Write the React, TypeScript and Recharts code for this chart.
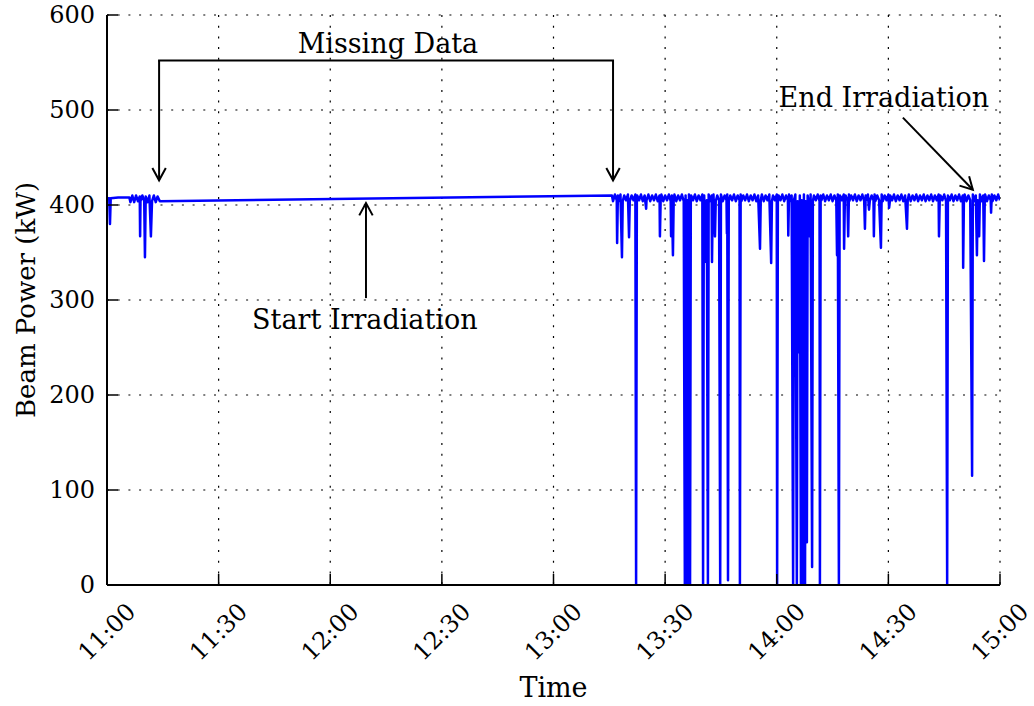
import React from 'react';
import {
  LineChart,
  Line,
  XAxis,
  YAxis,
  CartesianGrid,
  ReferenceLine,
  ReferenceDot,
  Label,
} from 'recharts';

const FONT = '"DejaVu Serif", serif';

// x axis: minutes after 11:00
const xTickMinutes = [0, 30, 60, 90, 120, 150, 180, 210, 240];
const xTickLabels = ['11:00', '11:30', '12:00', '12:30', '13:00', '13:30', '14:00', '14:30', '15:00'];
const yTicks = [0, 100, 200, 300, 400, 500, 600];

// [minutes after 11:00, beam power kW]
const runBeforeGap: [number, number][] = [
  [0, 407], [0.6, 407], [0.8, 380], [1.0, 407], [3, 408], [6, 408],
  [6.3, 403], [6.8, 410], [7.3, 403], [7.8, 410], [8.3, 404], [8.8, 409],
  [8.9, 367], [9.0, 404], [9.5, 410], [10.0, 404], [10.2, 345], [10.4, 409],
  [10.9, 403], [11.4, 410], [11.8, 367], [12.1, 404], [12.6, 410], [13.1, 403],
  [13.6, 409], [14.2, 404],
];

const runAfterGapA: [number, number][] = [
  [135.7, 410], [136, 404], [136.5, 411], [137, 405], [137.1, 360], [137.3, 410], [137.5, 404],
  [138, 411], [138.4, 345], [138.6, 404], [139, 410], [139.5, 405], [140, 411], [140.3, 366],
  [140.5, 404], [141, 410], [141.5, 405], [142, 411], [142.2, 0], [142.4, 404], [142.5, 410],
  [143, 405], [143.5, 411], [144, 404], [144.5, 410], [144.9, 396], [145, 405], [145.5, 411],
  [146, 404], [146.5, 410], [147, 405], [147.5, 411], [148, 404], [148.5, 410], [148.6, 367],
  [148.8, 405], [149, 411], [149.5, 404], [150, 410], [150.5, 405], [151, 411], [151.5, 404],
  [151.6, 367], [151.8, 410], [152.1, 347], [152.3, 405], [152.5, 411], [153, 404], [153.5, 410],
  [154, 405], [154.5, 411], [155, 404], [155.3, 0], [155.5, 410], [155.8, 0], [156.0, 405],
  [156.2, 0], [156.4, 411], [156.7, 0], [156.9, 404], [157, 410], [157.5, 405], [158, 411],
  [158.5, 404], [159, 410], [159.5, 405], [160, 411], [160.2, 0], [160.4, 404], [160.5, 410],
  [161.0, 340], [161.2, 405], [161.5, 0], [161.7, 411], [162, 404], [162.5, 410], [162.6, 340],
  [162.8, 405], [163, 411], [163.4, 367], [163.6, 404], [164, 410], [164.5, 405], [164.8, 0],
  [165.0, 411], [165.5, 404], [166, 410], [166.5, 405], [166.6, 370], [166.7, 411], [166.9, 5],
  [167.1, 404], [167.5, 410], [168, 405], [168.5, 411], [169, 404], [169.5, 410],
];

const runAfterGapB: [number, number][] = [
  [170, 405], [170.1, 0], [170.3, 411], [170.5, 404], [171, 410], [171.5, 405], [172, 411],
  [172.5, 404], [173, 410], [173.5, 405], [174, 411], [174.5, 404], [175, 410], [175.5, 354],
  [175.7, 405], [176, 411], [176.5, 404], [177, 410], [177.5, 405], [178, 411], [178.5, 339],
  [178.7, 404], [179, 410], [179.5, 405], [180, 411], [180.1, 0], [180.3, 404], [180.5, 410],
  [181, 405], [181.5, 411], [182, 404], [182.5, 410], [183, 405], [183.1, 368], [183.3, 411],
  [183.5, 404], [184, 410], [184.4, 0], [184.6, 405], [185, 411], [185.4, 0], [185.6, 404],
  [186.0, 245], [186.2, 410], [186.5, 0], [186.7, 405], [187.1, 0], [187.3, 411], [187.6, 0],
  [187.8, 404], [188.1, 45], [188.3, 410], [188.5, 405], [188.9, 367], [189.1, 411], [189.5, 19],
  [189.7, 404], [190, 410], [190.5, 405], [191, 411], [191.5, 404], [191.6, 0], [191.8, 410],
  [192, 405], [192.5, 411], [193, 404], [193.5, 410], [194, 405], [194.5, 411], [195, 404],
  [195.5, 410], [196, 405], [196.2, 347], [196.4, 411], [196.7, 0], [196.9, 404], [197, 410],
  [197.5, 405], [198, 411], [198.1, 354], [198.3, 404], [198.5, 410], [199, 405], [199.2, 367],
  [199.4, 411], [199.5, 404], [200, 410], [200.5, 405], [201, 411], [201.5, 404], [202, 410],
  [202.5, 405], [203, 411], [203.5, 404], [203.7, 375], [203.9, 410], [204, 405], [204.5, 411],
  [204.8, 395],
];

const runAfterGapC: [number, number][] = [
  [205, 404], [205.5, 410], [206, 405], [206.1, 367], [206.3, 411], [206.5, 404], [207, 410],
  [207.5, 405], [208, 355], [208.2, 411], [208.5, 404], [209, 410], [209.5, 405], [210, 411],
  [210.2, 397], [210.4, 404], [210.5, 410], [211, 405], [211.5, 411], [212, 404], [212.5, 410],
  [213, 405], [213.5, 411], [214, 404], [214.5, 410], [215, 375], [215.2, 405], [215.5, 411],
  [216, 404], [216.5, 410], [217, 405], [217.5, 411], [218, 404], [218.5, 410], [219, 405],
  [219.5, 411], [220, 404], [220.5, 410], [221, 405], [221.5, 411], [222, 404], [222.5, 410],
  [223, 405], [223.5, 411], [223.6, 367], [223.8, 404], [224, 410], [224.5, 405], [225, 411],
  [225.5, 404], [225.8, 0], [226.0, 410], [226.5, 405], [227, 411], [227.5, 404], [228, 410],
  [228.5, 405], [229, 411], [229.5, 404], [230, 410], [230.1, 334], [230.3, 405], [230.5, 411],
  [231, 404], [231.5, 410], [232, 405], [232.5, 115], [232.7, 411], [233, 404], [233.5, 410],
  [233.8, 347], [234.0, 405], [234.4, 367], [234.6, 411], [235, 404], [235.5, 410], [235.7, 341],
  [235.9, 405], [236, 411], [236.5, 404], [237, 410], [237.5, 405], [237.6, 392], [237.8, 411],
  [238, 404], [238.5, 410], [239, 405], [239.5, 411], [240, 405],
];

const data = [...runBeforeGap, ...runAfterGapA, ...runAfterGapB, ...runAfterGapC].map(
  ([t, kw]) => ({ t, kw })
);

// annotation anchors in data units (minutes, kW)
const missingBracket = { left: 14.0, right: 136.0, top: 552, tip: 426 };
const missingText = { t: 75.5, kw: 560, text: 'Missing Data' };
const startArrow = { t: 69.6, from: 302, to: 402 };
const startText = { t: 69.3, kw: 270, text: 'Start Irradiation' };
const endArrow = { t1: 213.9, kw1: 492, t2: 232.7, kw2: 416 };
const endText = { t: 208.8, kw: 503, text: 'End Irradiation' };

const TICK_LEN = 11;

const XTickBottom = (props: any) => {
  const { x, y, payload } = props;
  const i = xTickMinutes.indexOf(payload.value);
  const cy = y + 47;
  return (
    <g>
      <line x1={x} y1={y} x2={x} y2={y - TICK_LEN} stroke="#000" strokeWidth={1.5} />
      <text
        x={x}
        y={cy}
        textAnchor="middle"
        dominantBaseline="central"
        transform={`rotate(-45 ${x} ${cy})`}
        fontFamily={FONT}
        fontSize={24}
        fill="#000"
      >
        {xTickLabels[i]}
      </text>
    </g>
  );
};

const XTickTop = (props: any) => {
  const { x, y } = props;
  return <line x1={x} y1={y} x2={x} y2={y + TICK_LEN} stroke="#000" strokeWidth={1.5} />;
};

const YTickLeft = (props: any) => {
  const { x, y, payload } = props;
  return (
    <g>
      <line x1={x} y1={y} x2={x + TICK_LEN} y2={y} stroke="#000" strokeWidth={1.5} />
      <text
        x={x - 12}
        y={y}
        textAnchor="end"
        dominantBaseline="central"
        fontFamily={FONT}
        fontSize={24}
        fill="#000"
      >
        {payload.value}
      </text>
    </g>
  );
};

const YTickRight = (props: any) => {
  const { x, y } = props;
  return <line x1={x} y1={y} x2={x - TICK_LEN} y2={y} stroke="#000" strokeWidth={1.5} />;
};

const arrowShape = (p: any) => {
  const { x1, y1, x2, y2 } = p;
  const ang = Math.atan2(y2 - y1, x2 - x1);
  const L = 14;
  const h = 0.5;
  const ax = x2 - L * Math.cos(ang - h);
  const ay = y2 - L * Math.sin(ang - h);
  const bx = x2 - L * Math.cos(ang + h);
  const by = y2 - L * Math.sin(ang + h);
  return (
    <g>
      <line x1={x1} y1={y1} x2={x2} y2={y2} stroke="#000" strokeWidth={2} />
      <polyline
        points={`${ax},${ay} ${x2},${y2} ${bx},${by}`}
        fill="none"
        stroke="#000"
        strokeWidth={2}
        strokeLinejoin="miter"
      />
    </g>
  );
};

const plainShape = (p: any) => {
  const { x1, y1, x2, y2 } = p;
  return <line x1={x1} y1={y1} x2={x2} y2={y2} stroke="#000" strokeWidth={2} strokeLinecap="square" />;
};

const textShape = (text: string) => (p: any) => (
  <text x={p.cx} y={p.cy} textAnchor="middle" fontFamily={FONT} fontSize={27} fill="#000">
    {text}
  </text>
);

const XLabel = (props: any) => {
  const vb = props.viewBox;
  return (
    <text
      x={vb.x + vb.width / 2}
      y={vb.y + vb.height - 9}
      textAnchor="middle"
      fontFamily={FONT}
      fontSize={27}
      fill="#000"
    >
      Time
    </text>
  );
};

const YLabel = (props: any) => {
  const vb = props.viewBox;
  const cx = vb.x + 26;
  const cy = vb.y + vb.height / 2;
  return (
    <text
      x={cx}
      y={cy}
      textAnchor="middle"
      dominantBaseline="central"
      transform={`rotate(-90 ${cx} ${cy})`}
      fontFamily={FONT}
      fontSize={26}
      fill="#000"
    >
      Beam Power (kW)
    </text>
  );
};

export default function App() {
  return (
    <div style={{ position: 'absolute', left: 0, top: 0, width: 1034, height: 706, background: '#fff' }}>
      <LineChart
        width={1034}
        height={706}
        data={data}
        margin={{ top: 15, right: 34, bottom: 0, left: 0 }}
      >
        <CartesianGrid stroke="#000" strokeWidth={1.2} strokeDasharray="2 8.7" />
        <XAxis
          dataKey="t"
          type="number"
          domain={[0, 240]}
          ticks={xTickMinutes}
          interval={0}
          height={121}
          tickLine={false}
          tickSize={0}
          tickMargin={0}
          axisLine={{ stroke: '#000', strokeWidth: 2 }}
          tick={<XTickBottom />}
          allowDataOverflow
        >
          <Label content={<XLabel />} />
        </XAxis>
        <XAxis
          xAxisId="top"
          orientation="top"
          type="number"
          dataKey="t"
          domain={[0, 240]}
          ticks={xTickMinutes}
          interval={0}
          height={0}
          tickLine={false}
          tickSize={0}
          tickMargin={0}
          axisLine={{ stroke: '#000', strokeWidth: 2 }}
          tick={<XTickTop />}
          allowDataOverflow
        />
        <YAxis
          type="number"
          domain={[0, 600]}
          ticks={yTicks}
          interval={0}
          width={107}
          tickLine={false}
          tickSize={0}
          tickMargin={0}
          axisLine={{ stroke: '#000', strokeWidth: 2 }}
          tick={<YTickLeft />}
          allowDataOverflow
        >
          <Label content={<YLabel />} />
        </YAxis>
        <YAxis
          yAxisId="right"
          orientation="right"
          type="number"
          domain={[0, 600]}
          ticks={yTicks}
          interval={0}
          width={0}
          tickLine={false}
          tickSize={0}
          tickMargin={0}
          axisLine={{ stroke: '#000', strokeWidth: 2 }}
          tick={<YTickRight />}
          allowDataOverflow
        />
        <Line
          type="linear"
          dataKey="kw"
          stroke="#0000ff"
          strokeWidth={2.5}
          strokeLinejoin="round"
          dot={false}
          isAnimationActive={false}
        />
        <ReferenceLine
          ifOverflow="visible"
          segment={[
            { x: missingBracket.left, y: missingBracket.top },
            { x: missingBracket.right, y: missingBracket.top },
          ]}
          shape={plainShape}
        />
        <ReferenceLine
          ifOverflow="visible"
          segment={[
            { x: missingBracket.left, y: missingBracket.top },
            { x: missingBracket.left, y: missingBracket.tip },
          ]}
          shape={arrowShape}
        />
        <ReferenceLine
          ifOverflow="visible"
          segment={[
            { x: missingBracket.right, y: missingBracket.top },
            { x: missingBracket.right, y: missingBracket.tip },
          ]}
          shape={arrowShape}
        />
        <ReferenceLine
          ifOverflow="visible"
          segment={[
            { x: startArrow.t, y: startArrow.from },
            { x: startArrow.t, y: startArrow.to },
          ]}
          shape={arrowShape}
        />
        <ReferenceLine
          ifOverflow="visible"
          segment={[
            { x: endArrow.t1, y: endArrow.kw1 },
            { x: endArrow.t2, y: endArrow.kw2 },
          ]}
          shape={arrowShape}
        />
        <ReferenceDot
          ifOverflow="visible"
          x={missingText.t}
          y={missingText.kw}
          r={0}
          shape={textShape(missingText.text)}
        />
        <ReferenceDot
          ifOverflow="visible"
          x={startText.t}
          y={startText.kw}
          r={0}
          shape={textShape(startText.text)}
        />
        <ReferenceDot
          ifOverflow="visible"
          x={endText.t}
          y={endText.kw}
          r={0}
          shape={textShape(endText.text)}
        />
      </LineChart>
    </div>
  );
}
